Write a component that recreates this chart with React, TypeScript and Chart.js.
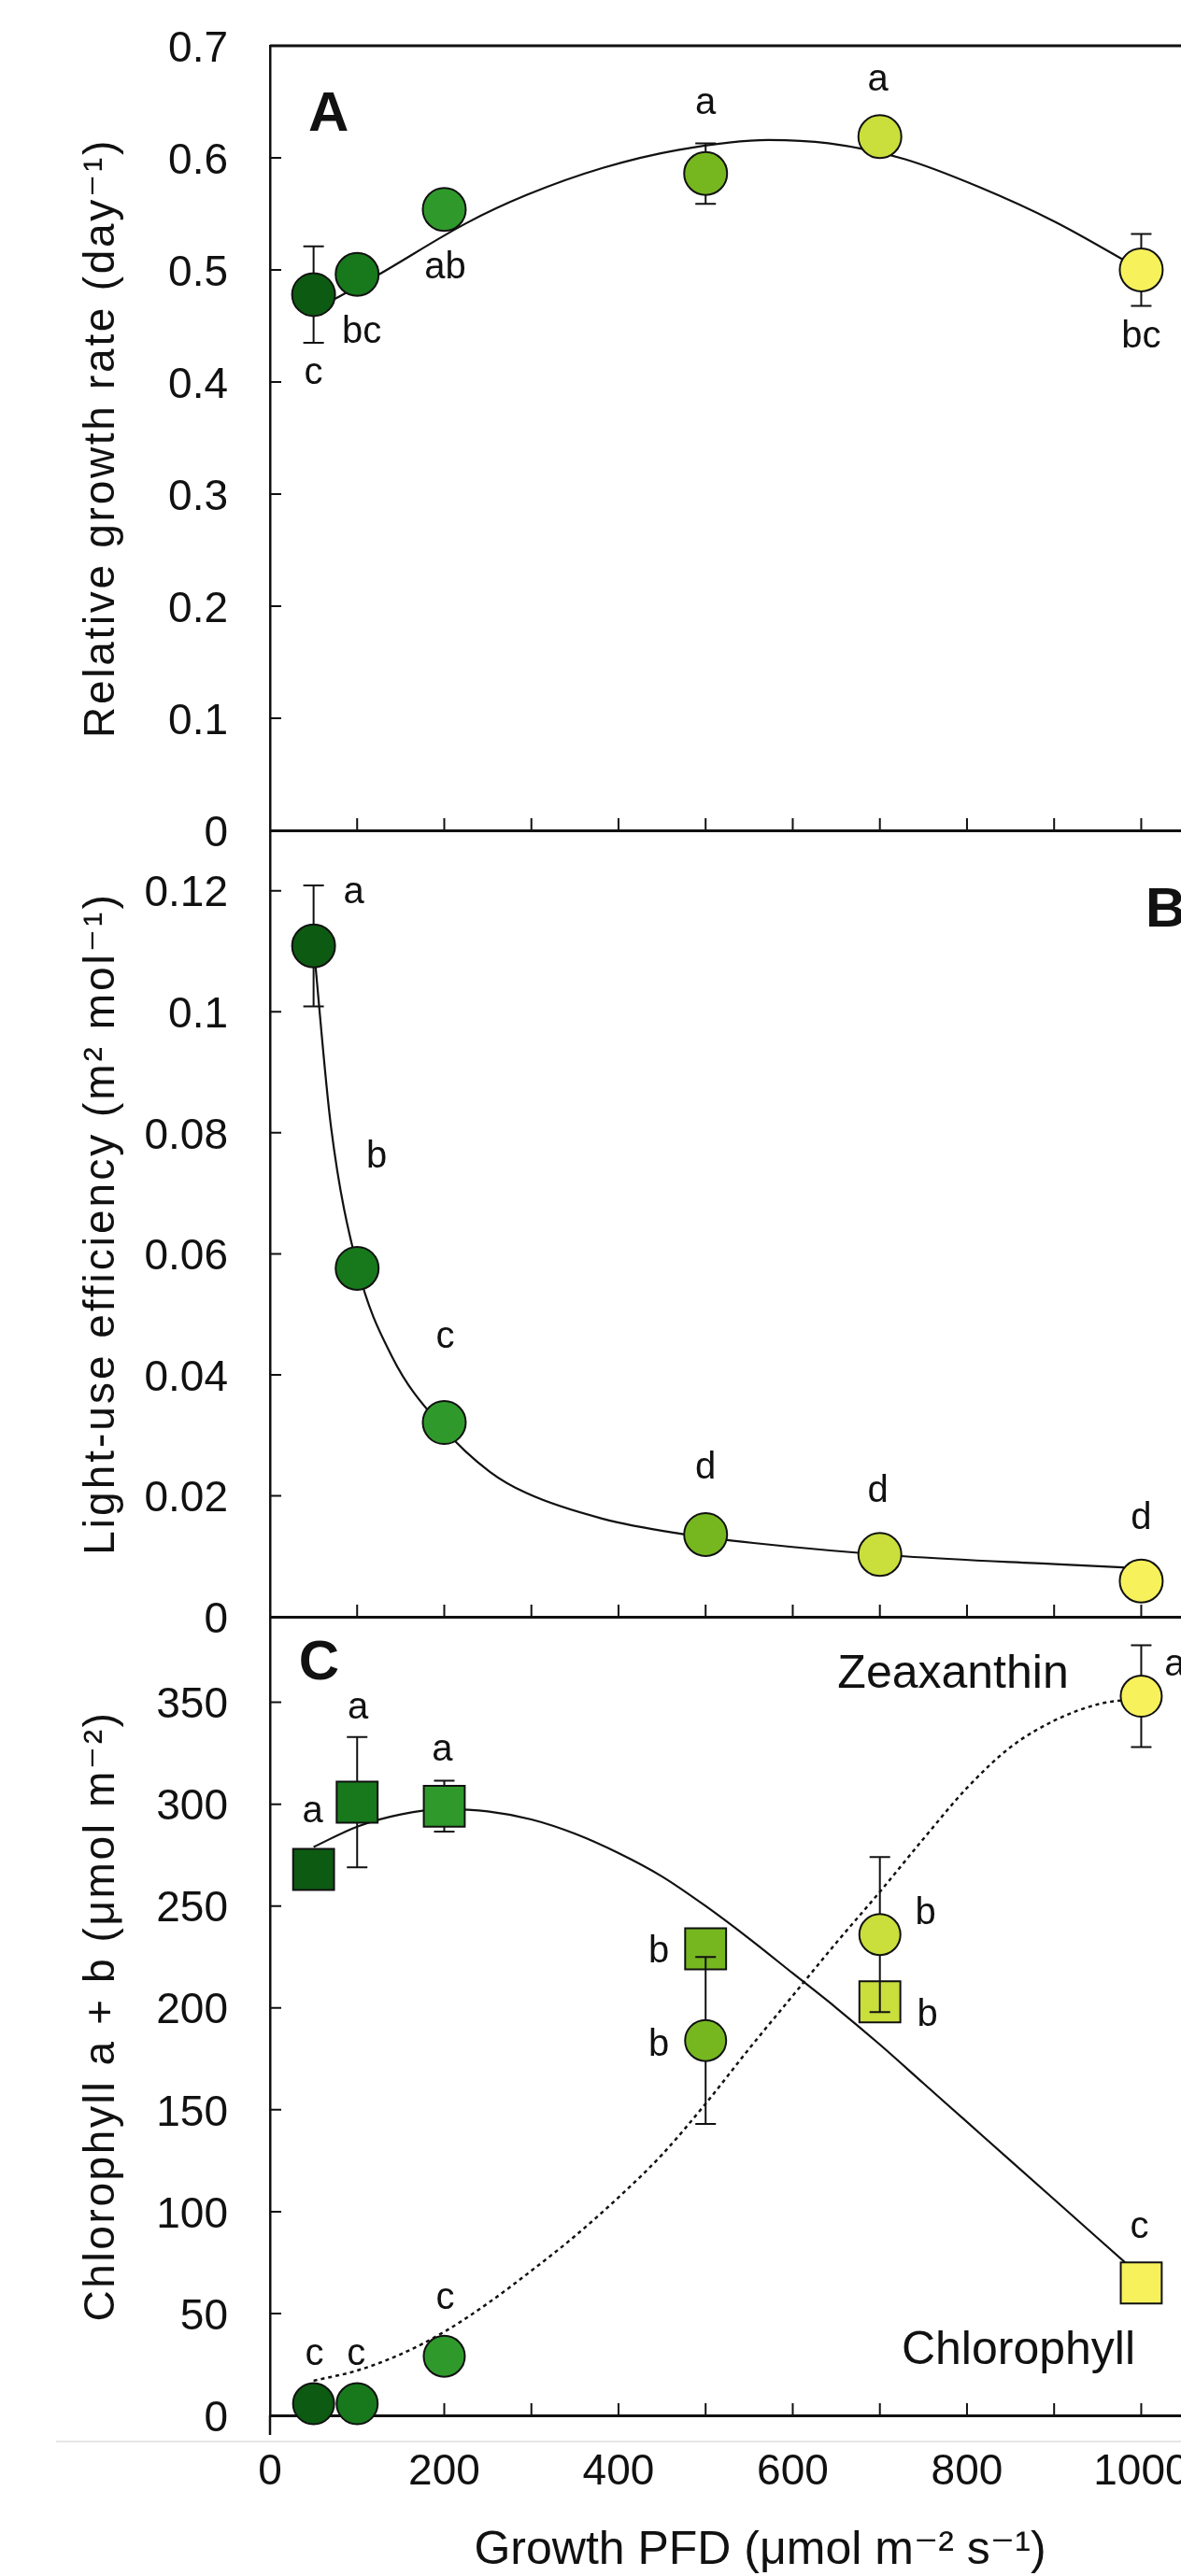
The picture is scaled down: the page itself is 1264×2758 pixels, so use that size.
import React, { useEffect, useRef } from 'react';
import { Chart, registerables } from 'chart.js';

Chart.register(...registerables);

const FONT = '"Liberation Sans", Arial, "DejaVu Sans", sans-serif';
const INK = '#111111';

// ---------------- data ----------------
const pfd = [50, 100, 200, 500, 700, 1000];
const pfdColors = ['#0d5a12', '#17791c', '#2f9a2b', '#76b720', '#cade3c', '#f7f15c'];

// Panel A: relative growth rate (day^-1)
const rgr = [0.478, 0.496, 0.554, 0.586, 0.619, 0.5];
const rgrErr = [0.043, 0, 0, 0.027, 0, 0.032];
const rgrLetters = ['c', 'bc', 'ab', 'a', 'a', 'bc'];
const rgrFitX = [50, 79, 125, 226, 295, 382, 468, 572, 641, 728, 814, 901, 1000];
const rgrFitY = [0.464, 0.476, 0.496, 0.542, 0.567, 0.591, 0.607, 0.616, 0.613, 0.599, 0.574, 0.543, 0.5];

// Panel B: light-use efficiency (m2 mol^-1)
const lue = [0.1109, 0.0576, 0.0321, 0.0136, 0.0103, 0.0059];
const lueErr = [0.01, 0, 0, 0, 0, 0];
const lueLetters = ['a', 'b', 'c', 'd', 'd', 'd'];
const lueFitX = [50, 70, 100, 140, 200, 252, 295, 382, 468, 555, 728, 901, 1000];
const lueFitY = [0.111, 0.081, 0.058, 0.043, 0.031, 0.024, 0.0204, 0.0162, 0.0138, 0.0122, 0.01, 0.0087, 0.008];

// Panel C: chlorophyll a+b (squares) and zeaxanthin (circles)
const chl = [268, 301, 299, 229, 203, 65];
const chlErr = [0, 32, 12.5, 0, 0, 0];
const chlLetters = ['a', 'a', 'a', 'b', 'b', 'c'];
const chlFitX = [50, 100, 150, 200, 250, 300, 350, 400, 450, 500, 550, 600, 650, 700, 750, 800, 850, 900, 950, 1000];
const chlFitY = [279, 289, 295, 297.5, 296.5, 292.5, 285.5, 276, 264.5, 250, 234, 217, 200, 182, 163, 144, 125, 106, 87, 68];

const zea = [5.7, 5.7, 29, 184, 236, 353];
const zeaErr = [0, 0, 0, 41, 38, 25];
const zeaLetters = ['c', 'c', 'c', 'b', 'b', 'a'];
const zeaFitX = [50, 100, 150, 200, 250, 300, 350, 400, 450, 500, 550, 600, 650, 700, 750, 800, 850, 900, 950, 1000];
const zeaFitY = [17, 22, 30, 41, 55, 71, 88, 107, 128, 153, 180, 206, 232, 257, 283, 308, 328, 341, 349, 352];

// ticks
const xTickValues = [0, 100, 200, 300, 400, 500, 600, 700, 800, 900, 1000];
const xTickLabels = ['0', '', '200', '', '400', '', '600', '', '800', '', '1000'];
const yTicksA = [0, 0.1, 0.2, 0.3, 0.4, 0.5, 0.6, 0.7];
const yLabelsA = ['0', '0.1', '0.2', '0.3', '0.4', '0.5', '0.6', '0.7'];
const yTicksB = [0, 0.02, 0.04, 0.06, 0.08, 0.1, 0.12];
const yLabelsB = ['0', '0.02', '0.04', '0.06', '0.08', '0.1', '0.12'];
const yTicksC = [0, 50, 100, 150, 200, 250, 300, 350];
const yLabelsC = ['0', '50', '100', '150', '200', '250', '300', '350'];

// ---------------- layout (pixels, not data) ----------------
const PAGE_W = 1264;
const PAGE_H = 2758;
const AXIS_LEFT = 289;
const X_MAX = 1125;

// label offsets [dx, dy to baseline] relative to each marker
const offA = [[0, 96], [5, 73], [1, 74], [0, -64], [-2, -49], [0, 83]];
const offB = [[43, -46], [21, -108], [1, -80], [0, -60], [-2, -56], [0, -56]];
const offChl = [[-1, -50], [1, -89], [-2, -49], [-50, 14], [51, 26], [-2, -48]];
const offZea = [[1, -42], [-1, -42], [1, -51], [-50, 16], [49, -11], [36, -22]];

type Note = { text: string; x: number; y: number; font: string; align: CanvasTextAlign };
type Panel = {
  top: number;
  height: number;
  width: number;
  padTop: number;
  padBottom: number;
  yMax: number;
  yTicks: number[];
  yLabels: string[];
  yTitle: string;
  titleSpacing: string;
  showX: boolean;
  topBorder: boolean;
  tail: boolean;
  datasets: any[];
  errors: Record<number, number[]>;
  letters: { ds: number; text: string[]; off: number[][] }[];
  notes: Note[];
};

const pts = (xs: number[], ys: number[]) => xs.map((x, i) => ({ x, y: ys[i] }));

const markerDs = (label: string, ys: number[], style: string, radius: number, order: number) => ({
  label,
  data: pts(pfd, ys),
  showLine: false,
  pointStyle: style,
  pointRadius: radius,
  pointBackgroundColor: pfdColors,
  pointBorderColor: INK,
  pointBorderWidth: 2,
  order,
  clip: false,
});

const curveDs = (label: string, xs: number[], ys: number[], dash: number[], order: number) => ({
  label,
  data: pts(xs, ys),
  showLine: true,
  pointRadius: 0,
  borderColor: INK,
  borderWidth: dash.length ? 2.5 : 2.2,
  borderDash: dash,
  cubicInterpolationMode: 'monotone',
  fill: false,
  order,
  clip: false,
});

const LETTER_FONT = `40px ${FONT}`;
const PANEL_FONT = `bold 60px ${FONT}`;
const NOTE_FONT = `50px ${FONT}`;

const panels: Panel[] = [
  {
    top: 0,
    height: 940,
    width: 1363,
    padTop: 49,
    padBottom: 51,
    yMax: 0.7,
    yTicks: yTicksA,
    yLabels: yLabelsA,
    yTitle: 'Relative growth rate (day⁻¹)',
    titleSpacing: '2.7px',
    showX: false,
    topBorder: true,
    tail: false,
    datasets: [markerDs('RGR', rgr, 'circle', 23, 1), curveDs('RGR fit', rgrFitX, rgrFitY, [], 2)],
    errors: { 0: rgrErr },
    letters: [{ ds: 0, text: rgrLetters, off: offA }],
    notes: [{ text: 'A', x: 44, y: 0.624, font: PANEL_FONT, align: 'left' }],
  },
  {
    top: 850,
    height: 920,
    width: 1363,
    padTop: 39,
    padBottom: 39,
    yMax: 0.13,
    yTicks: yTicksB,
    yLabels: yLabelsB,
    yTitle: 'Light-use efficiency (m² mol⁻¹)',
    titleSpacing: '3px',
    showX: false,
    topBorder: false,
    tail: false,
    datasets: [markerDs('LUE', lue, 'circle', 23, 1), curveDs('LUE fit', lueFitX, lueFitY, [], 2)],
    errors: { 0: lueErr },
    letters: [{ ds: 0, text: lueLetters, off: offB }],
    notes: [{ text: 'B', x: 1005, y: 0.1141, font: PANEL_FONT, align: 'left' }],
  },
  {
    top: 1690,
    height: PAGE_H - 1690,
    width: 1371,
    padTop: 41,
    padBottom: 0,
    yMax: 392,
    yTicks: yTicksC,
    yLabels: yLabelsC,
    yTitle: 'Chlorophyll a + b (μmol m⁻²)',
    titleSpacing: '2.6px',
    showX: true,
    topBorder: false,
    tail: true,
    datasets: [
      markerDs('Zeaxanthin', zea, 'circle', 22, 1),
      markerDs('Chlorophyll', chl, 'rect', 31, 2),
      curveDs('Zeaxanthin fit', zeaFitX, zeaFitY, [4, 4], 3),
      curveDs('Chlorophyll fit', chlFitX, chlFitY, [], 4),
    ],
    errors: { 0: zeaErr, 1: chlErr },
    letters: [
      { ds: 0, text: zeaLetters, off: offZea },
      { ds: 1, text: chlLetters, off: offChl },
    ],
    notes: [
      { text: 'C', x: 33, y: 361.5, font: PANEL_FONT, align: 'left' },
      { text: 'Zeaxanthin', x: 784, y: 357, font: NOTE_FONT, align: 'center' },
      { text: 'Chlorophyll', x: 859, y: 25, font: NOTE_FONT, align: 'center' },
    ],
  },
];

function decor(p: Panel) {
  return {
    id: 'decor',
    beforeDatasetsDraw(chart: any) {
      const { ctx, chartArea: a } = chart;
      const x = chart.scales.x;
      const y = chart.scales.y;
      ctx.save();
      ctx.strokeStyle = INK;
      ctx.lineWidth = 2;
      ctx.beginPath();
      for (const v of xTickValues) {
        const px = x.getPixelForValue(v);
        ctx.moveTo(px, a.bottom);
        ctx.lineTo(px, a.bottom - 13);
      }
      for (const v of p.yTicks) {
        const py = y.getPixelForValue(v);
        ctx.moveTo(a.left, py);
        ctx.lineTo(a.left + 12, py);
      }
      ctx.stroke();
      if (p.topBorder) {
        ctx.lineWidth = 3;
        ctx.beginPath();
        ctx.moveTo(a.left, a.top);
        ctx.lineTo(a.right, a.top);
        ctx.stroke();
      }
      if (p.tail) {
        ctx.lineWidth = 2.5;
        ctx.beginPath();
        ctx.moveTo(a.left, a.bottom);
        ctx.lineTo(a.left, a.bottom + 21);
        ctx.stroke();
        ctx.strokeStyle = '#e6e6e6';
        ctx.lineWidth = 2;
        ctx.beginPath();
        ctx.moveTo(60, a.bottom + 28);
        ctx.lineTo(chart.width, a.bottom + 28);
        ctx.stroke();
      }
      ctx.restore();
    },
    beforeDatasetDraw(chart: any, args: any) {
      const errs = p.errors[args.index];
      if (!errs) return;
      const { ctx } = chart;
      const x = chart.scales.x;
      const y = chart.scales.y;
      const data = chart.data.datasets[args.index].data;
      ctx.save();
      ctx.strokeStyle = INK;
      ctx.lineWidth = 2;
      data.forEach((d: any, i: number) => {
        const e = errs[i];
        if (!e) return;
        const px = x.getPixelForValue(d.x);
        const y1 = y.getPixelForValue(d.y + e);
        const y2 = y.getPixelForValue(d.y - e);
        ctx.beginPath();
        ctx.moveTo(px, y1);
        ctx.lineTo(px, y2);
        ctx.moveTo(px - 11, y1);
        ctx.lineTo(px + 11, y1);
        ctx.moveTo(px - 11, y2);
        ctx.lineTo(px + 11, y2);
        ctx.stroke();
      });
      ctx.restore();
    },
    afterDatasetsDraw(chart: any) {
      const { ctx } = chart;
      const x = chart.scales.x;
      const y = chart.scales.y;
      ctx.save();
      ctx.fillStyle = INK;
      ctx.textBaseline = 'alphabetic';
      ctx.textAlign = 'center';
      ctx.font = LETTER_FONT;
      for (const l of p.letters) {
        const data = chart.data.datasets[l.ds].data;
        data.forEach((d: any, i: number) => {
          const px = x.getPixelForValue(d.x) + l.off[i][0];
          const py = y.getPixelForValue(d.y) + l.off[i][1];
          ctx.fillText(l.text[i], px, py);
        });
      }
      for (const n of p.notes) {
        ctx.font = n.font;
        ctx.textAlign = n.align;
        ctx.fillText(n.text, x.getPixelForValue(n.x), y.getPixelForValue(n.y));
      }
      ctx.restore();
    },
  };
}

function patchTitle(scale: any, spacing: string) {
  if (!scale || scale.__patched) return;
  const orig = scale.drawTitle.bind(scale);
  scale.drawTitle = (...args: any[]) => {
    const c = scale.ctx;
    c.save();
    try {
      c.letterSpacing = spacing;
    } catch (e) {
      /* ignore */
    }
    orig(...args);
    c.restore();
  };
  scale.__patched = true;
}

function buildConfig(p: Panel): any {
  return {
    type: 'scatter',
    data: { datasets: p.datasets },
    options: {
      responsive: false,
      animation: false,
      devicePixelRatio: 1,
      events: [],
      layout: { padding: { top: p.padTop, bottom: p.padBottom, left: 0, right: 0 } },
      plugins: { legend: { display: false }, tooltip: { enabled: false }, title: { display: false } },
      scales: {
        x: {
          type: 'linear',
          position: 'bottom',
          min: 0,
          max: X_MAX,
          afterBuildTicks: (s: any) => {
            s.ticks = xTickValues.map((v) => ({ value: v }));
          },
          afterFit: (s: any) => {
            s.height = p.showX ? 172 : 0;
          },
          grid: { display: false, drawTicks: true, tickLength: 38 },
          border: { display: true, color: INK, width: 3 },
          ticks: {
            display: p.showX,
            padding: 0,
            autoSkip: false,
            maxRotation: 0,
            minRotation: 0,
            color: INK,
            font: { family: FONT, size: 46, lineHeight: 1 },
            callback: (_v: any, i: number) => xTickLabels[i],
          },
          title: {
            display: p.showX,
            text: 'Growth PFD (μmol m⁻² s⁻¹)',
            color: INK,
            font: { family: FONT, size: 50, lineHeight: 1 },
            padding: { top: 0, bottom: 2 },
          },
        },
        y: {
          type: 'linear',
          position: 'left',
          min: 0,
          max: p.yMax,
          afterBuildTicks: (s: any) => {
            s.ticks = p.yTicks.map((v) => ({ value: v }));
          },
          afterFit: (s: any) => {
            s.width = AXIS_LEFT;
          },
          grid: { display: false, drawTicks: true, tickLength: 45 },
          border: { display: true, color: INK, width: 2.5 },
          ticks: {
            padding: 0,
            autoSkip: false,
            labelOffset: 4,
            color: INK,
            font: { family: FONT, size: 46, lineHeight: 1 },
            callback: (_v: any, i: number) => p.yLabels[i],
          },
          title: {
            display: true,
            text: p.yTitle,
            color: INK,
            font: { family: FONT, size: 46, lineHeight: 1 },
            padding: { top: 86, bottom: 0 },
          },
        },
      },
    },
    plugins: [
      decor(p),
      {
        id: 'titleSpacing',
        beforeDraw(chart: any) {
          patchTitle(chart.scales.y, p.titleSpacing);
        },
      },
    ],
  };
}

function PanelCanvas({ p }: { p: Panel }) {
  const ref = useRef<HTMLCanvasElement | null>(null);
  useEffect(() => {
    if (!ref.current) return;
    const chart = new Chart(ref.current, buildConfig(p));
    return () => chart.destroy();
  }, [p]);
  return (
    <canvas
      ref={ref}
      width={p.width}
      height={p.height}
      style={{ position: 'absolute', left: 0, top: p.top, width: p.width, height: p.height }}
    />
  );
}

export default function App() {
  return (
    <div
      style={{
        position: 'absolute',
        left: 0,
        top: 0,
        width: PAGE_W,
        height: PAGE_H,
        overflow: 'hidden',
        background: '#ffffff',
      }}
    >
      {panels.map((p, i) => (
        <PanelCanvas key={i} p={p} />
      ))}
    </div>
  );
}
